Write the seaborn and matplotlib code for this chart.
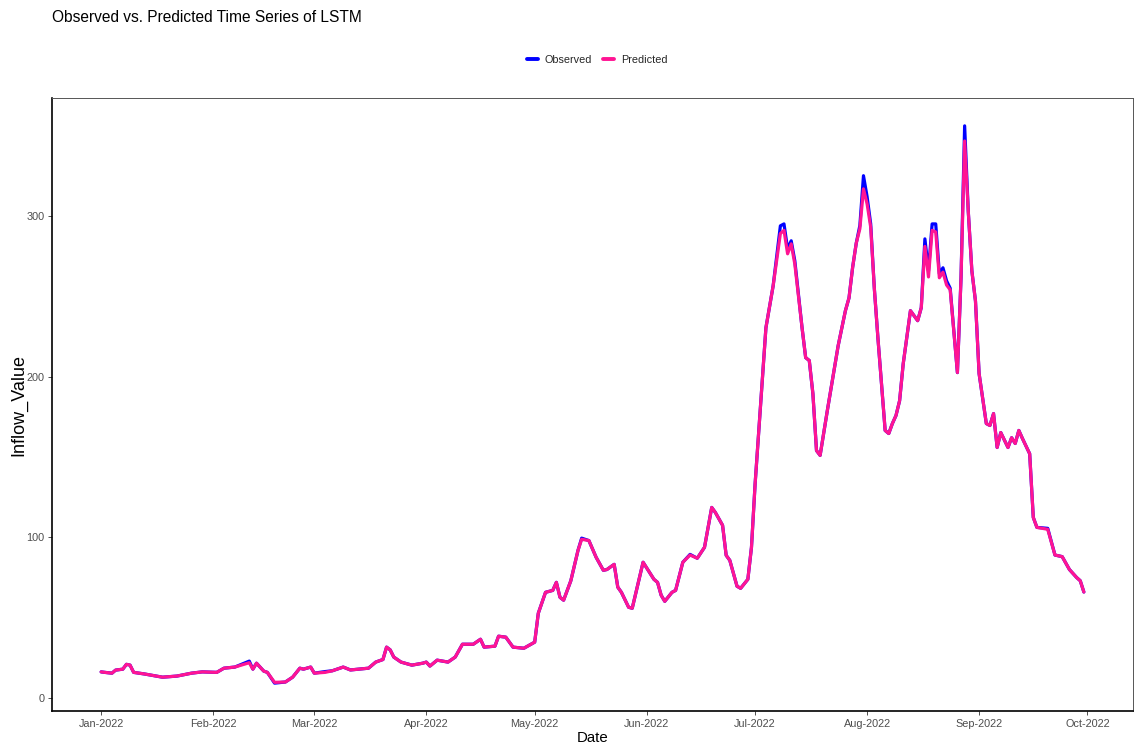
import matplotlib
matplotlib.use("Agg")
import matplotlib.pyplot as plt
import matplotlib.dates as mdates
from matplotlib.lines import Line2D
import pandas as pd
import seaborn as sns

# Daily inflow, observed vs. LSTM prediction (vertices of the series)
dates = [
    "2022-01-01", "2022-01-02", "2022-01-04", "2022-01-05", "2022-01-07", "2022-01-08",
    "2022-01-09", "2022-01-10", "2022-01-13", "2022-01-18", "2022-01-22", "2022-01-26",
    "2022-01-29", "2022-02-02", "2022-02-04", "2022-02-07", "2022-02-11", "2022-02-12",
    "2022-02-13", "2022-02-15", "2022-02-16", "2022-02-18", "2022-02-21", "2022-02-23",
    "2022-02-25", "2022-02-26", "2022-02-28", "2022-03-01", "2022-03-04", "2022-03-06",
    "2022-03-09", "2022-03-11", "2022-03-16", "2022-03-18", "2022-03-20", "2022-03-21",
    "2022-03-22", "2022-03-23", "2022-03-25", "2022-03-28", "2022-03-31", "2022-04-01",
    "2022-04-02", "2022-04-04", "2022-04-07", "2022-04-09", "2022-04-11", "2022-04-14",
    "2022-04-16", "2022-04-17", "2022-04-20", "2022-04-21", "2022-04-23", "2022-04-25",
    "2022-04-28", "2022-05-01", "2022-05-02", "2022-05-04", "2022-05-06", "2022-05-07",
    "2022-05-08", "2022-05-09", "2022-05-11", "2022-05-13", "2022-05-14", "2022-05-16",
    "2022-05-18", "2022-05-20", "2022-05-21", "2022-05-23", "2022-05-24", "2022-05-25",
    "2022-05-27", "2022-05-28", "2022-05-30", "2022-05-31", "2022-06-03", "2022-06-04",
    "2022-06-05", "2022-06-06", "2022-06-08", "2022-06-09", "2022-06-11", "2022-06-13",
    "2022-06-15", "2022-06-17", "2022-06-19", "2022-06-20", "2022-06-22", "2022-06-23",
    "2022-06-24", "2022-06-26", "2022-06-27", "2022-06-29", "2022-06-30", "2022-07-01",
    "2022-07-04", "2022-07-06", "2022-07-08", "2022-07-09", "2022-07-10", "2022-07-11",
    "2022-07-12", "2022-07-14", "2022-07-15", "2022-07-16", "2022-07-17", "2022-07-18",
    "2022-07-19", "2022-07-21", "2022-07-23", "2022-07-24", "2022-07-26", "2022-07-27",
    "2022-07-28", "2022-07-29", "2022-07-30", "2022-07-31", "2022-08-01", "2022-08-02",
    "2022-08-03", "2022-08-04", "2022-08-06", "2022-08-07", "2022-08-08", "2022-08-09",
    "2022-08-10", "2022-08-11", "2022-08-13", "2022-08-15", "2022-08-16", "2022-08-17",
    "2022-08-18", "2022-08-19", "2022-08-20", "2022-08-21", "2022-08-22", "2022-08-23",
    "2022-08-24", "2022-08-26", "2022-08-27", "2022-08-28", "2022-08-29", "2022-08-30",
    "2022-08-31", "2022-09-01", "2022-09-03", "2022-09-04", "2022-09-05", "2022-09-06",
    "2022-09-07", "2022-09-09", "2022-09-10", "2022-09-11", "2022-09-12", "2022-09-13",
    "2022-09-15", "2022-09-16", "2022-09-17", "2022-09-20", "2022-09-22", "2022-09-24",
    "2022-09-26", "2022-09-28", "2022-09-29", "2022-09-30",
]

observed = [
    16.3, 16.0, 15.5, 17.4, 18.0, 21.0,
    20.5, 16.0, 15.0, 13.0, 13.7, 15.5,
    16.3, 16.0, 18.6, 19.3, 23.0, 18.0,
    21.7, 16.8, 16.0, 9.3, 10.0, 13.0,
    18.6, 18.0, 19.3, 15.5, 16.5, 17.0,
    19.3, 17.5, 18.6, 22.4, 24.0, 31.7,
    30.0, 25.5, 22.4, 20.5, 21.7, 22.4,
    19.9, 23.6, 22.4, 25.5, 33.5, 33.5,
    36.6, 31.7, 32.3, 38.5, 37.9, 31.7,
    31.0, 34.8, 52.8, 65.8, 67.0, 72.0,
    62.7, 60.9, 73.0, 92.0, 99.5, 98.0,
    87.6, 79.5, 80.0, 83.2, 69.0, 65.8,
    56.5, 55.9, 75.0, 84.5, 73.9, 72.0,
    64.0, 60.2, 65.8, 67.0, 84.5, 89.4,
    87.0, 93.8, 118.6, 115.5, 107.5, 88.8,
    85.7, 69.6, 68.3, 73.9, 93.8, 133.0,
    230.4, 256.5, 293.8, 295.0, 279.5, 284.5,
    272.0, 230.4, 211.8, 210.0, 189.4, 154.0,
    151.0, 178.9, 205.6, 219.3, 241.0, 249.0,
    268.0, 283.0, 294.0, 325.0, 312.0, 295.0,
    255.0, 224.0, 166.5, 164.6, 170.8, 175.8,
    185.0, 208.0, 241.0, 234.8, 242.9, 285.7,
    265.8, 295.0, 295.0, 264.0, 267.7, 259.6,
    255.0, 202.5, 261.5, 356.0, 303.0, 265.8,
    247.0, 201.9, 170.8, 169.6, 177.0, 155.9,
    165.2, 155.9, 162.0, 158.4, 166.5, 161.5,
    152.0, 112.4, 106.2, 105.6, 89.0, 88.0,
    80.0, 75.0, 73.0, 66.0,
]

predicted = [
    16.3, 16.0, 15.5, 17.4, 18.0, 21.0,
    20.5, 16.0, 15.0, 13.0, 13.7, 15.5,
    16.3, 16.0, 18.6, 19.3, 22.0, 18.0,
    21.7, 16.8, 16.0, 9.8, 10.0, 13.0,
    18.6, 18.0, 19.3, 15.5, 16.0, 17.0,
    19.3, 17.5, 18.6, 22.4, 24.0, 31.7,
    30.0, 25.5, 22.4, 20.5, 21.7, 22.4,
    19.9, 23.6, 22.4, 25.5, 33.5, 33.5,
    36.6, 31.7, 32.3, 38.5, 37.9, 31.7,
    31.0, 34.8, 52.8, 65.8, 67.0, 72.0,
    62.7, 60.9, 73.0, 92.0, 98.8, 98.0,
    87.6, 79.5, 80.0, 83.2, 69.0, 65.8,
    56.5, 55.9, 75.0, 84.5, 73.9, 72.0,
    64.0, 60.2, 65.8, 67.0, 84.5, 89.0,
    87.0, 93.8, 118.6, 115.5, 107.5, 88.8,
    85.7, 69.6, 68.3, 73.9, 93.8, 133.0,
    230.4, 256.5, 289.0, 291.0, 276.4, 282.6,
    270.0, 230.4, 211.8, 210.0, 189.4, 154.0,
    151.0, 178.9, 205.6, 219.3, 241.0, 249.0,
    268.0, 283.0, 292.0, 316.8, 307.5, 293.0,
    255.0, 224.0, 166.5, 164.6, 170.8, 175.8,
    185.0, 208.0, 241.0, 234.8, 242.9, 281.0,
    262.0, 291.0, 290.0, 261.5, 265.0, 257.0,
    254.0, 202.5, 261.5, 346.6, 303.0, 265.8,
    247.0, 201.9, 170.8, 169.6, 177.0, 155.9,
    165.2, 155.9, 162.0, 158.4, 166.5, 161.5,
    152.0, 112.4, 106.2, 105.0, 89.0, 88.0,
    80.0, 75.0, 73.0, 66.0,
]

series_names = ["Observed", "Predicted"]
series_colors = ["#0000FF", "#FF1493"]
y_ticks = [0, 100, 200, 300]
month_ticks = ["2022-01-01", "2022-02-01", "2022-03-01", "2022-04-01", "2022-05-01",
               "2022-06-01", "2022-07-01", "2022-08-01", "2022-09-01", "2022-10-01"]

sns.set_theme(style="white")
plt.rcParams["font.family"] = ["Liberation Sans", "DejaVu Sans"]

df = pd.DataFrame({"Date": pd.to_datetime(dates), "Observed": observed, "Predicted": predicted})
long_df = df.melt(id_vars="Date", value_vars=series_names,
                  var_name="Series", value_name="Inflow_Value")

W, H = 1134, 753
fig = plt.figure(figsize=(W / 100, H / 100), dpi=100)
fig.patch.set_facecolor("white")
left, right, top, bottom = 52, 1133, 98, 711
ax = fig.add_axes([left / W, 1 - bottom / H, (right - left) / W, (bottom - top) / H])

palette = dict(zip(series_names, series_colors))
sns.lineplot(data=long_df, x="Date", y="Inflow_Value", hue="Series",
             hue_order=series_names, palette=palette, linewidth=2.3,
             estimator=None, legend=False, ax=ax)

# 5% expansion around the data range on both axes
d0, d1 = df["Date"].min(), df["Date"].max()
pad_x = (d1 - d0) * 0.05
ax.set_xlim(d0 - pad_x, d1 + pad_x)
vmin = min(min(observed), min(predicted))
vmax = max(max(observed), max(predicted))
pad_y = (vmax - vmin) * 0.05
ax.set_ylim(vmin - pad_y, vmax + pad_y)

ax.set_xticks(pd.to_datetime(month_ticks))
ax.xaxis.set_major_formatter(mdates.DateFormatter("%b-%Y"))
ax.set_yticks(y_ticks)
ax.tick_params(axis="both", which="major", length=3, width=0.6, color="#333333",
               labelcolor="#4D4D4D", labelsize=7.8, pad=2.5,
               bottom=True, left=True)

ax.set_xlabel("Date", fontsize=10.8, color="black", labelpad=2)
ax.set_ylabel("Inflow_Value", fontsize=13, color="black", labelpad=-1)

for side in ["top", "right"]:
    ax.spines[side].set_color("#555555")
    ax.spines[side].set_linewidth(0.7)
for side in ["left", "bottom"]:
    ax.spines[side].set_color("black")
    ax.spines[side].set_linewidth(1.2)
ax.grid(False)

handles = [Line2D([0], [0], color=c, lw=2.8) for c in series_colors]
fig.legend(handles, series_names, loc="center", bbox_to_anchor=(597 / W, 1 - 60 / H),
           ncol=2, frameon=False, fontsize=7.8, handlelength=1.0,
           handletextpad=0.6, columnspacing=1.1)

fig.text(left / W, 1 - 18 / H, "Observed vs. Predicted Time Series of LSTM",
         ha="left", va="center", fontsize=11.2, color="black")

fig.savefig("out.png", dpi=100, facecolor="white")
